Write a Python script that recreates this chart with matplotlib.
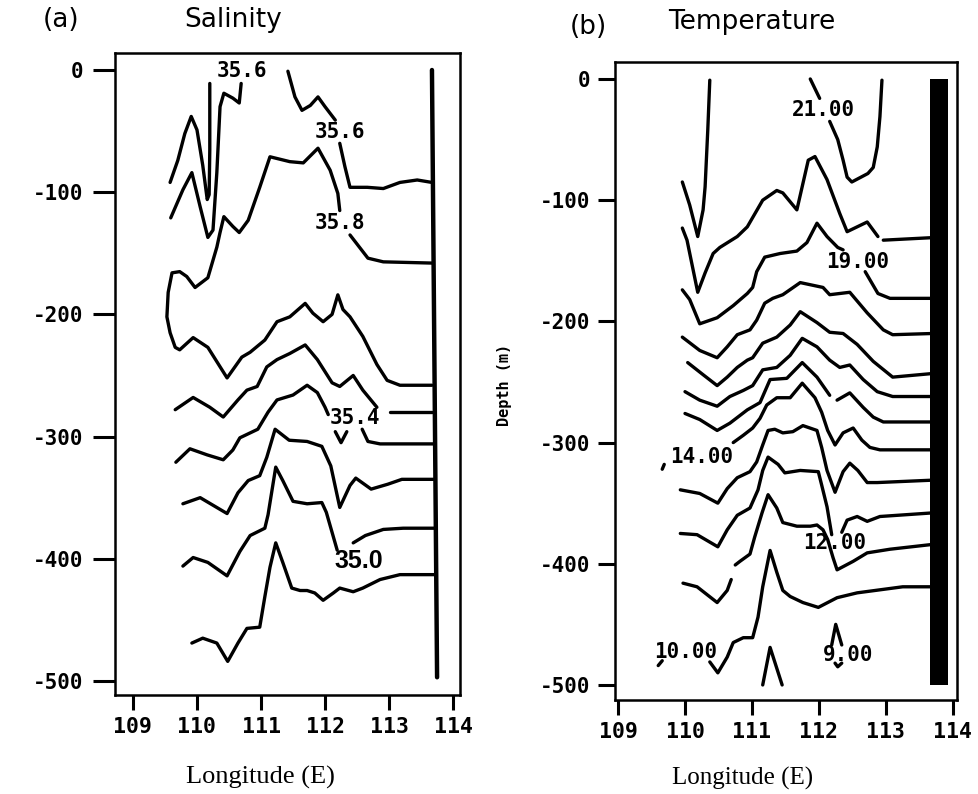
import matplotlib
matplotlib.use("Agg")
from matplotlib import pyplot as plt

plt.rcParams['axes.unicode_minus'] = False

# ---- (a) salinity contour segments, (longitude E, depth m) ----
sal_1 = [(109.58, -92), (109.70, -74), (109.81, -52), (109.91, -38), (110.00, -49), (110.09, -78),
         (110.16, -106), (110.19, -102), (110.20, -65), (110.20, -11)]
sal_2 = [(109.59, -121), (109.78, -98), (109.92, -84), (110.05, -112), (110.17, -137), (110.25, -131),
         (110.31, -84), (110.36, -30), (110.42, -19), (110.56, -23), (110.66, -27), (110.69, -11)]
sal_3 = [(111.42, -1), (111.53, -22), (111.64, -33), (111.77, -29), (111.89, -22), (112.00, -30), (112.16, -41)]
sal_4 = [(112.23, -60), (112.31, -79), (112.39, -96), (112.66, -96), (112.91, -97), (113.17, -92),
         (113.44, -90), (113.67, -92)]
sal_5a = [(112.39, -135), (112.67, -154), (112.91, -157), (113.67, -158)]
sal_5b = [(112.23, -115), (112.20, -101), (112.08, -82), (111.89, -64), (111.66, -76), (111.45, -75),
          (111.14, -71), (110.98, -96), (110.80, -123), (110.66, -133), (110.56, -128), (110.42, -120),
          (110.36, -133), (110.31, -145), (110.17, -170), (109.97, -178), (109.84, -169), (109.73, -165),
          (109.61, -166), (109.55, -182), (109.53, -202), (109.58, -215), (109.66, -227), (109.73, -229),
          (109.94, -219), (110.17, -227), (110.47, -252), (110.70, -235), (110.83, -231), (111.06, -221),
          (111.25, -206), (111.45, -202), (111.69, -191), (111.81, -199), (111.97, -206), (112.11, -200),
          (112.20, -184), (112.28, -196), (112.39, -202), (112.59, -218), (112.81, -241), (112.97, -254),
          (113.17, -258), (113.67, -258)]
sal_6a = [(109.66, -278), (109.94, -268), (110.20, -276), (110.41, -284), (110.64, -270), (110.78, -262),
          (110.94, -259), (111.09, -243), (111.25, -237), (111.45, -232), (111.69, -225), (111.88, -237),
          (112.11, -256), (112.23, -259), (112.44, -250), (112.59, -262), (112.81, -276)]
sal_6b = [(113.02, -280), (113.67, -280)]
sal_7a = [(109.67, -321), (109.89, -310), (110.16, -315), (110.41, -319), (110.56, -311), (110.67, -301),
          (110.95, -294), (111.11, -280), (111.25, -270), (111.50, -266), (111.72, -258), (111.88, -264),
          (112.00, -276), (112.05, -282)]
sal_7v = [(112.16, -296), (112.25, -305), (112.34, -296)]
sal_7b = [(112.58, -294), (112.67, -304), (112.86, -306), (113.69, -306)]
sal_8 = [(109.78, -355), (110.05, -350), (110.47, -363), (110.64, -346), (110.80, -336), (110.98, -332),
         (111.09, -317), (111.22, -294), (111.44, -303), (111.72, -304), (111.95, -308), (112.09, -324),
         (112.23, -358), (112.39, -340), (112.48, -334), (112.72, -343), (112.98, -339), (113.20, -335),
         (113.72, -335)]
sal_9a = [(109.78, -406), (109.94, -399), (110.17, -403), (110.47, -414), (110.67, -394), (110.83, -381),
          (111.06, -375), (111.11, -364), (111.23, -325), (111.34, -336), (111.50, -353), (111.72, -355),
          (111.95, -354), (112.02, -362), (112.19, -393)]
sal_9b = [(112.44, -387), (112.63, -381), (112.91, -376), (113.22, -375), (113.72, -375)]
sal_10 = [(109.92, -469), (110.09, -465), (110.31, -469), (110.48, -484), (110.64, -469), (110.78, -457),
          (110.98, -456), (111.06, -431), (111.14, -407), (111.23, -387), (111.34, -403), (111.48, -424),
          (111.61, -426), (111.72, -426), (111.84, -428), (111.97, -434), (112.13, -428), (112.23, -424),
          (112.44, -427), (112.59, -424), (112.86, -417), (113.17, -413), (113.72, -413)]
coast_a_lon = [113.67, 113.75]
coast_a_dep = [0, -497]

sal_labels = ['35.6', '35.6', '35.8', '35.4']
sal_label_lon = [110.70, 112.23, 112.23, 112.47]
sal_label_dep = [-1, -51, -125, -285]
sal_label_35 = ('35.0', 112.52, -402)

# ---- (b) temperature contour segments ----
tem_1 = [(109.96, -85), (110.07, -104), (110.19, -130), (110.27, -108), (110.30, -89), (110.34, -42), (110.37, -1)]
tem_2a = [(111.87, 0), (112.01, -16)]
tem_2b = [(112.16, -35), (112.28, -50), (112.36, -67), (112.42, -81), (112.49, -85), (112.73, -78),
          (112.81, -73), (112.87, -56), (112.91, -31), (112.94, -1)]
tem_3a = [(109.96, -123), (110.03, -133), (110.19, -176), (110.30, -160), (110.42, -144), (110.52, -139),
          (110.78, -130), (110.93, -122), (111.16, -100), (111.37, -92), (111.46, -94), (111.67, -108),
          (111.84, -67), (111.94, -64), (112.12, -83), (112.31, -111), (112.42, -126), (112.57, -122),
          (112.72, -118), (112.88, -130)]
tem_3b = [(112.96, -133), (113.66, -131)]
tem_4a = [(109.96, -174), (110.07, -182), (110.22, -202), (110.48, -197), (110.72, -187), (110.93, -177),
          (111.01, -172), (111.07, -159), (111.19, -147), (111.42, -144), (111.67, -142), (111.82, -135),
          (111.97, -119), (112.12, -130), (112.28, -139), (112.36, -141)]
tem_4b = [(112.69, -159), (112.88, -177), (113.06, -181), (113.70, -181)]
tem_5 = [(109.96, -213), (110.22, -224), (110.48, -230), (110.63, -221), (110.78, -211), (110.97, -207),
         (111.07, -199), (111.19, -185), (111.31, -181), (111.46, -178), (111.72, -168), (112.06, -172),
         (112.16, -178), (112.46, -176), (112.72, -193), (112.96, -207), (113.10, -211), (113.70, -210)]
tem_6 = [(110.04, -234), (110.27, -244), (110.48, -253), (110.63, -246), (110.78, -238), (110.93, -232),
         (111.01, -230), (111.16, -218), (111.37, -213), (111.57, -203), (111.72, -192), (111.97, -201),
         (112.16, -209), (112.36, -210), (112.57, -219), (112.81, -233), (113.10, -246), (113.70, -243)]
tem_7 = [(110.00, -258), (110.22, -265), (110.48, -270), (110.67, -262), (110.87, -257), (111.01, -253),
         (111.16, -240), (111.37, -238), (111.57, -228), (111.75, -214), (111.97, -221), (112.16, -232),
         (112.31, -238), (112.46, -236), (112.66, -248), (112.87, -258), (113.10, -262), (113.70, -262)]
tem_8a = [(110.00, -276), (110.22, -281), (110.48, -290), (110.67, -284), (110.93, -273), (111.12, -267),
          (111.27, -248), (111.52, -247), (111.75, -234), (111.97, -246), (112.16, -261)]
tem_8b = [(112.27, -265), (112.46, -259), (112.66, -271), (112.81, -279), (112.96, -283), (113.70, -283)]
tem_9 = [(110.72, -300), (110.87, -294), (111.01, -288), (111.12, -280), (111.22, -269), (111.37, -263),
         (111.57, -263), (111.75, -251), (111.94, -263), (112.04, -275), (112.13, -290), (112.24, -302),
         (112.36, -292), (112.51, -288), (112.64, -298), (112.76, -304), (112.91, -306), (113.70, -306)]
tem_10 = [(109.93, -339), (110.22, -342), (110.49, -350), (110.63, -338), (110.78, -329), (110.97, -324),
          (111.07, -316), (111.16, -302), (111.24, -290), (111.34, -289), (111.46, -292), (111.61, -291),
          (111.76, -286), (111.97, -290), (112.04, -304), (112.12, -323), (112.24, -341), (112.36, -324),
          (112.46, -317), (112.58, -323), (112.72, -333), (112.87, -333), (113.70, -331)]
tem_11a = [(109.93, -375), (110.18, -376), (110.49, -386), (110.63, -372), (110.78, -360), (110.97, -354),
           (111.09, -339), (111.16, -323), (111.24, -312), (111.39, -318), (111.49, -325), (111.72, -323),
           (111.99, -324), (112.04, -335), (112.12, -353), (112.19, -376)]
tem_11b = [(112.34, -374), (112.42, -364), (112.57, -361), (112.72, -365), (112.91, -361), (113.70, -358)]
tem_12a = [(109.97, -416), (110.18, -419), (110.48, -432), (110.63, -422), (110.69, -413)]
tem_12b = [(110.75, -401), (110.82, -398), (110.97, -392), (111.04, -378), (111.15, -358), (111.24, -343),
           (111.37, -354), (111.46, -366), (111.67, -369), (111.87, -369), (111.97, -368), (112.06, -372),
           (112.13, -380), (112.21, -395), (112.27, -405), (112.51, -398), (112.72, -391), (113.06, -388),
           (113.70, -384)]
tem_13 = [(110.37, -481), (110.49, -490), (110.63, -477), (110.72, -465), (110.87, -461), (111.01, -461),
          (111.09, -444), (111.16, -419), (111.27, -389), (111.37, -407), (111.46, -422), (111.57, -427),
          (111.76, -432), (111.99, -436), (112.27, -428), (112.57, -424), (113.25, -419), (113.70, -419)]
tem_14 = [(111.16, -500), (111.27, -469), (111.45, -500)]
tem_15 = [(112.19, -467), (112.25, -450), (112.34, -467)]
tem_16 = [(112.24, -482), (112.28, -485), (112.34, -482)]
tem_17 = [(109.66, -322), (109.69, -318)]
tem_18 = [(109.60, -484), (109.66, -480)]
bar_b_lon = [113.66, 113.93]
bar_b_dep = [0, -500]

tem_labels = ['21.00', '19.00', '14.00', '12.00', '10.00', '9.00']
tem_label_lon = [112.07, 112.58, 110.25, 112.24, 110.01, 112.43]
tem_label_dep = [-26, -151, -312, -383, -473, -475]

lon_ticks = [109, 110, 111, 112, 113, 114]
dep_ticks = [0, -100, -200, -300, -400, -500]

sal_lines = [sal_1, sal_2, sal_3, sal_4, sal_5a, sal_5b, sal_6a, sal_6b, sal_7a, sal_7v, sal_7b,
             sal_8, sal_9a, sal_9b, sal_10]
tem_lines = [tem_1, tem_2a, tem_2b, tem_3a, tem_3b, tem_4a, tem_4b, tem_5, tem_6, tem_7, tem_8a, tem_8b,
             tem_9, tem_10, tem_11a, tem_11b, tem_12a, tem_12b, tem_13, tem_14, tem_15, tem_16, tem_17, tem_18]

mono = dict(family='DejaVu Sans Mono', weight='bold')

fig = plt.figure(figsize=(9.79, 7.94), dpi=100)
ax_a = fig.add_axes([0.1175, 0.1247, 0.3525, 0.8085])
ax_b = fig.add_axes([0.6282, 0.1184, 0.3493, 0.8035])


def style_axes(ax, xlim, ylim, ylen, ypad):
    ax.set_xlim(*xlim)
    ax.set_ylim(*ylim)
    for s in ax.spines.values():
        s.set_linewidth(1.8)
    ax.set_xticks(lon_ticks)
    ax.set_yticks(dep_ticks)
    ax.set_xticklabels([str(t) for t in lon_ticks], fontsize=15.5, **mono)
    ax.set_yticklabels([str(t) for t in dep_ticks], fontsize=15, **mono)
    ax.tick_params(axis='x', direction='out', length=11, width=2.2, pad=5)
    ax.tick_params(axis='y', direction='out', length=ylen, width=2.2, pad=ypad)


style_axes(ax_a, (108.72, 114.11), (-511.5, 13.9), 16, 7)
style_axes(ax_b, (108.955, 114.06), (-512.4, 14.0), 12, 6)

line_kw = dict(color='black', lw=2.4, solid_joinstyle='round', solid_capstyle='round')
for seg in sal_lines:
    lon, dep = zip(*seg)
    ax_a.plot(lon, dep, **line_kw)
ax_a.plot(coast_a_lon, coast_a_dep, color='black', lw=3.2, solid_capstyle='round')

for seg in tem_lines:
    lon, dep = zip(*seg)
    ax_b.plot(lon, dep, **line_kw)
ax_b.fill_betweenx(bar_b_dep, bar_b_lon[0], bar_b_lon[1], color='black', lw=0)

for txt, x, y in zip(sal_labels, sal_label_lon, sal_label_dep):
    ax_a.text(x, y, txt, ha='center', va='center', fontsize=15, **mono)
ax_a.text(sal_label_35[1], sal_label_35[2], sal_label_35[0], ha='center', va='center',
          fontsize=18, family='Liberation Sans', weight='bold')

for txt, x, y in zip(tem_labels, tem_label_lon, tem_label_dep):
    ax_b.text(x, y, txt, ha='center', va='center', fontsize=15, **mono)

# titles and axis captions
fig.text(61 / 979, 1 - 20 / 794, '(a)', ha='center', va='center', fontsize=19, family='DejaVu Sans')
fig.text(233 / 979, 1 - 20 / 794, 'Salinity', ha='center', va='center', fontsize=19, family='DejaVu Sans')
fig.text(588 / 979, 1 - 27 / 794, '(b)', ha='center', va='center', fontsize=19, family='DejaVu Sans')
fig.text(752 / 979, 1 - 22 / 794, 'Temperature', ha='center', va='center', fontsize=19, family='DejaVu Sans')
fig.text(260 / 979, 1 - 777 / 794, 'Longitude (E)', ha='center', va='center', fontsize=19,
         family='Liberation Serif')
fig.text(743 / 979, 1 - 778 / 794, 'Longitude (E)', ha='center', va='center', fontsize=18,
         family='Liberation Serif')
fig.text(505 / 979, 1 - 385 / 794, 'Depth (m)', ha='center', va='center', rotation=90, fontsize=11, **mono)

fig.savefig('out.png', dpi=100)
